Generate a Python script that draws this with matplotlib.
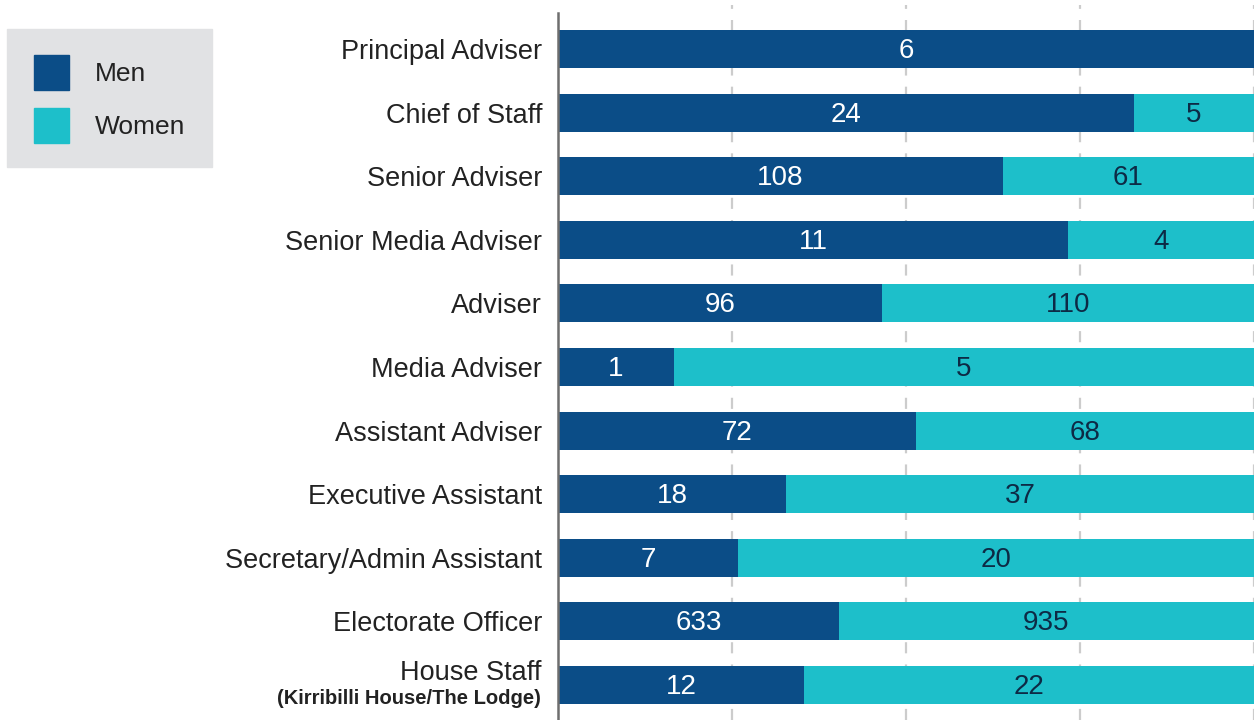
import matplotlib.pyplot as plt
from matplotlib.patches import Rectangle
import numpy as np

plt.rcParams['font.family'] = ['Liberation Sans', 'DejaVu Sans']

roles = ['Principal Adviser', 'Chief of Staff', 'Senior Adviser', 'Senior Media Adviser',
         'Adviser', 'Media Adviser', 'Assistant Adviser', 'Executive Assistant',
         'Secretary/Admin Assistant', 'Electorate Officer', 'House Staff']
men = np.array([6, 24, 108, 11, 96, 1, 72, 18, 7, 633, 12])
women = np.array([0, 5, 61, 4, 110, 5, 68, 37, 20, 935, 22])

c_men = '#0b4d87'
c_women = '#1dbfca'

W, H = 1254, 720
fig = plt.figure(figsize=(W / 100, H / 100), dpi=100)
ax = fig.add_axes([558 / W, 0, 1 - 558 / W, 1 - 13 / H])

total = men + women
pm = men / total
pw = women / total
y = np.arange(len(roles))

ax.barh(y, pm, height=0.6, color=c_men, zorder=2)
ax.barh(y, pw, left=pm, height=0.6, color=c_women, zorder=2)

# value labels, nudged a touch down to sit on the bar centre
for i in range(len(roles)):
    ax.text(pm[i] / 2, y[i] + 0.03, str(men[i]), ha='center', va='center',
            color='white', fontsize=20, zorder=3)
    if women[i] > 0:
        ax.text(pm[i] + pw[i] / 2, y[i] + 0.03, str(women[i]), ha='center', va='center',
                color='#0d2a45', fontsize=20, zorder=3)

# dashed gridlines
for gx in [0.25, 0.5, 0.75, 1.0]:
    ax.axvline(gx, ymin=0, ymax=1.012, color='#cccccc', lw=1.6,
               ls=(0, (5, 5)), zorder=1, clip_on=False)

ax.set_xlim(0, 1)
ax.set_ylim(len(roles) - 1 + 0.55, -0.566)
for s in ['top', 'right', 'bottom']:
    ax.spines[s].set_visible(False)
ax.spines['left'].set_color('#6e6e6e')
ax.spines['left'].set_linewidth(1.8)
ax.set_xticks([])
ax.set_yticks(y)
ax.set_yticklabels(roles[:-1] + [''], fontsize=19.5, color='#222222')
ax.tick_params(axis='y', length=0, pad=11.5)

# two-line label for house staff
ax.text(-0.024, y[-1] + 0.02, 'House Staff', ha='right', va='bottom',
        fontsize=19.5, color='#222222', transform=ax.get_yaxis_transform())
ax.text(-0.024, y[-1] + 0.06, '(Kirribilli House/The Lodge)', ha='right', va='top',
        fontsize=14.5, fontweight='bold', color='#222222',
        transform=ax.get_yaxis_transform())

# legend box
fig.patches.append(Rectangle((7 / W, 1 - 167 / H), 205 / W, 138 / H,
                             transform=fig.transFigure, color='#e1e2e4', zorder=0))
for name, col, top in [('Men', c_men, 55), ('Women', c_women, 108)]:
    fig.patches.append(Rectangle((34 / W, 1 - (top + 35) / H), 35 / W, 35 / H,
                                 transform=fig.transFigure, color=col, zorder=1))
    fig.text(95 / W, 1 - (top + 19) / H, name, ha='left', va='center',
             fontsize=19, color='#222222')

fig.savefig('out.png', dpi=100)
